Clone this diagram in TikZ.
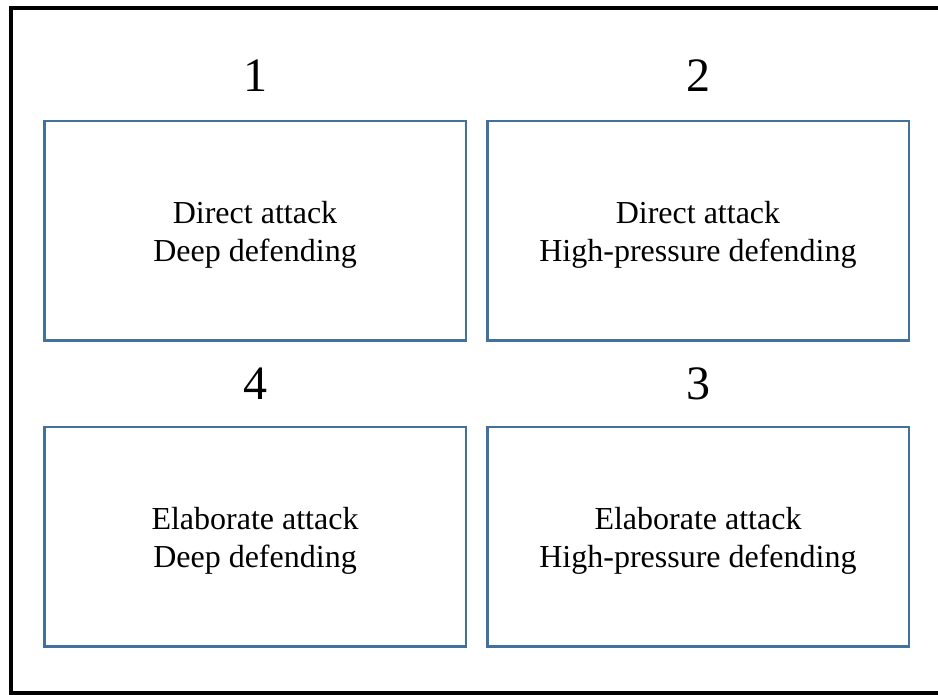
\documentclass[tikz,border=0pt]{standalone}
\usepackage{fontspec}
\setmainfont{Liberation Serif}
\usetikzlibrary{positioning}
\definecolor{boxblue}{RGB}{65,113,156}

\begin{document}
\begin{tikzpicture}[x=1pt,y=1pt,node distance=19pt,
  quad node/.style={rectangle,draw=boxblue,line width=2.5pt,minimum width=421.5pt,minimum height=219.5pt,
    align=center,text height=68pt,font=\fontsize{32}{38}\selectfont},
  num node/.style={inner sep=0pt,font=\fontsize{48}{50}\selectfont}]

  \useasboundingbox (0,0) rectangle (938,695);
  \draw[line width=4pt] (11,687) rectangle (941,1.5);

  \node[quad node] (1) at (255,464) {Direct attack\\Deep defending};
  \node[quad node] (2) [right=of 1] {Direct attack\\High-pressure defending};
  \node[quad node] (4) [below=84pt of 1] {Elaborate attack\\Deep defending};
  \node[quad node] (3) [below=84pt of 2] {Elaborate attack\\High-pressure defending};

  \node[num node] (n1) [above=28pt of 1] {1};
  \node[num node] (n2) [above=28pt of 2] {2};
  \node[num node] (n4) [above=26pt of 4] {4};
  \node[num node] (n3) [above=26pt of 3] {3};

\end{tikzpicture}
\end{document}
